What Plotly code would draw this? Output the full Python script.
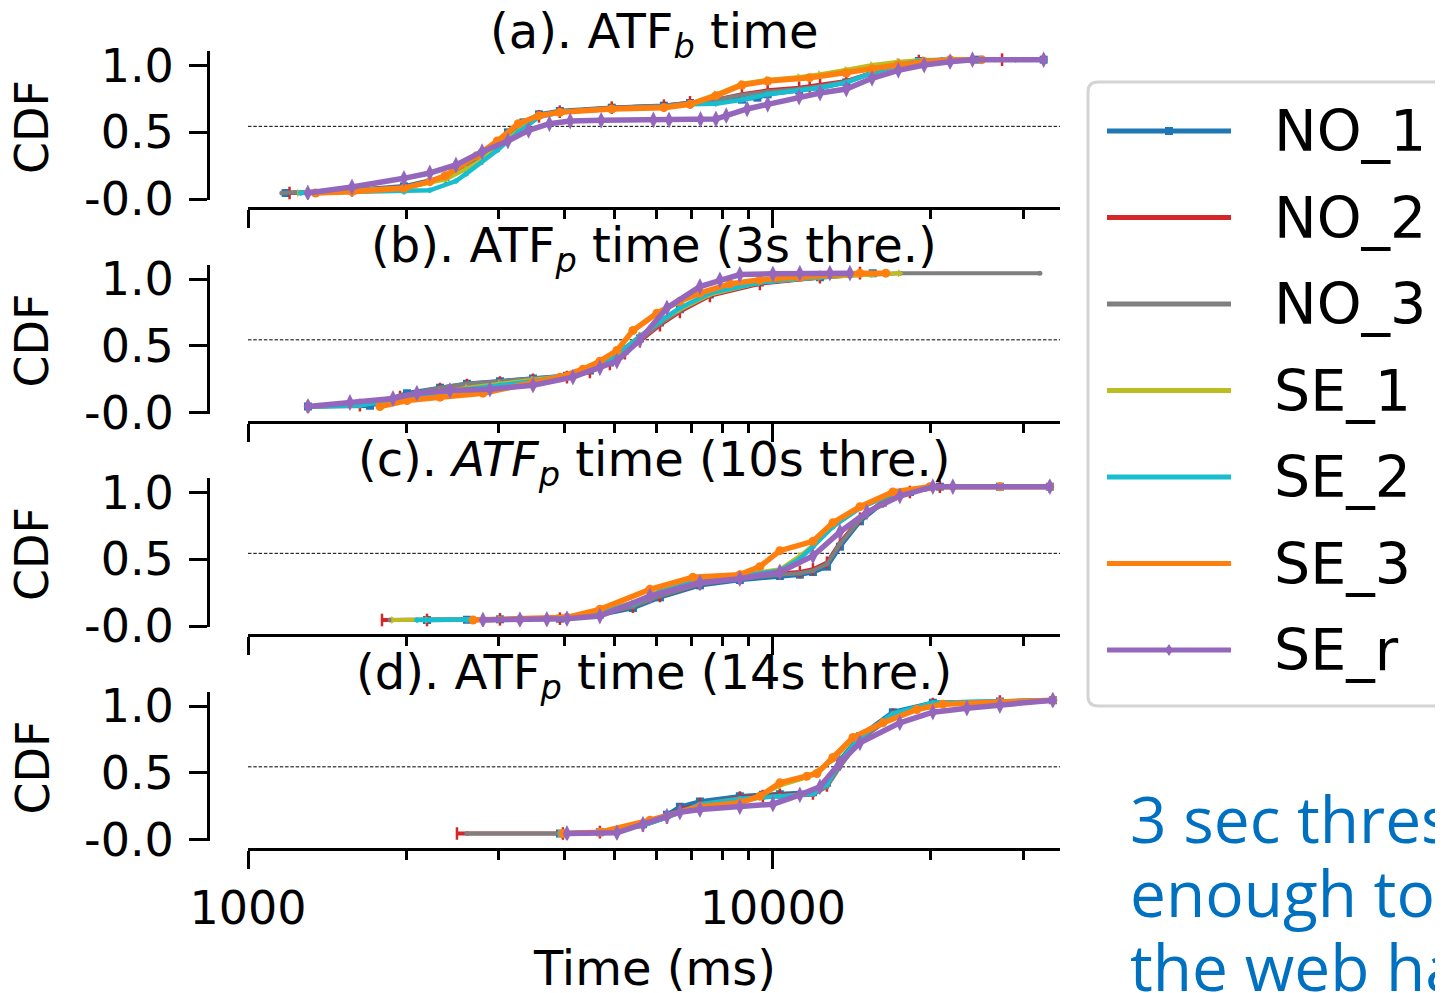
import plotly.graph_objects as go

# ---------------- data (time in ms, CDF values) ----------------
SERIES = ["NO_1", "NO_2", "NO_3", "SE_1", "SE_2", "SE_3", "SE_r"]
TITLES = [
    "(a). ATF<sub><i>b</i></sub> time",
    "(b). ATF<sub><i>p</i></sub> time (3s thre.)",
    "(c). <i>ATF</i><sub><i>p</i></sub> time (10s thre.)",
    "(d). ATF<sub><i>p</i></sub> time (14s thre.)",
]
X_TICKS = [1000, 10000]
X_TICK_TEXT = ["1000", "10000"]
X_MINOR = [2000, 3000, 4000, 5000, 6000, 7000, 8000, 9000, 20000, 30000]
Y_TICKS = [-0.045, 0.455, 0.955]
Y_TICK_TEXT = ["-0.0", "0.5", "1.0"]
MEDIAN_LINE = 0.5
NOTE_LINES = ["3 sec thres", "enough to", "the web ha"]

# (a) ATF_b time
A_NO1_T = [1180,1578,1982,2378,2606,2792,3128,3347,3584,3927,4932,6200,6952,7787,8730,9344,9775,11220,12300,13800,15450,17340,18970,24380,32800]
A_NO1_P = [0.0,0.02,0.05,0.12,0.22,0.295,0.455,0.53,0.59,0.615,0.64,0.655,0.675,0.69,0.70,0.715,0.74,0.77,0.79,0.83,0.90,0.96,0.99,1.0,1.0]
A_NO2_T = [1200,1578,1982,2378,2606,2792,3128,3347,3584,3927,4932,6200,6952,7787,8730,9775,11220,11750,12300,13800,15450,17340,18970,27330]
A_NO2_P = [0.0,0.02,0.045,0.11,0.19,0.26,0.42,0.50,0.575,0.61,0.64,0.655,0.68,0.70,0.74,0.77,0.79,0.80,0.81,0.84,0.90,0.96,0.99,1.0]
A_NO3_T = [1160,1578,1982,2378,2606,2792,3128,3347,3584,3927,4932,6200,6952,7787,8730,9775,11220,12300,13800,15450,17340,18970,21000,26600]
A_NO3_P = [0.0,0.02,0.045,0.11,0.19,0.26,0.42,0.50,0.575,0.61,0.64,0.655,0.68,0.70,0.735,0.76,0.78,0.80,0.835,0.90,0.96,0.99,1.0,1.0]
A_SE1_T = [1250,1578,1982,2378,2606,2792,3128,3347,3584,3927,4932,6200,6952,7787,8730,9775,11220,12300,13800,15450,17340,19420,22000]
A_SE1_P = [0.0,0.02,0.04,0.10,0.18,0.25,0.41,0.50,0.575,0.605,0.63,0.645,0.67,0.74,0.82,0.85,0.87,0.89,0.925,0.96,0.985,1.0,1.0]
A_SE2_T = [1260,1578,1982,2220,2490,2606,2985,3272,3584,3927,4932,6200,6952,7787,8730,9775,11220,12300,13800,15450,17340,18970,21000,29000]
A_SE2_P = [0.0,0.005,0.01,0.02,0.09,0.145,0.32,0.455,0.57,0.605,0.63,0.645,0.665,0.67,0.70,0.74,0.77,0.79,0.83,0.90,0.96,0.99,1.0,1.0]
A_SE3_T = [1345,1578,1982,2220,2378,2729,2985,3272,3584,3927,4932,6200,6952,7787,8730,9775,11750,13800,15450,17340,19420,21760,25000]
A_SE3_P = [0.0,0.01,0.035,0.085,0.13,0.28,0.39,0.52,0.58,0.605,0.63,0.64,0.665,0.73,0.81,0.84,0.865,0.90,0.93,0.96,0.985,1.0,1.0]
A_SER_T = [1300,1578,1982,2220,2490,2792,3128,3424,3752,4110,4708,5920,6340,7280,7787,8150,8930,9775,11220,12300,13800,15450,17340,19420,21760,24000,32800]
A_SER_P = [0.0,0.045,0.11,0.15,0.21,0.31,0.39,0.47,0.52,0.54,0.545,0.548,0.548,0.552,0.555,0.58,0.63,0.665,0.72,0.75,0.78,0.86,0.92,0.96,0.985,1.0,1.0]

# (b) ATF_p time, 3 s threshold
B_NO1_T = [1301,1708,2009,2322,2613,3020,3491,4052,4481,4891,5225,5581,6093,6650,7586,9446,12291,15500]
B_NO1_P = [0.0,0.005,0.10,0.14,0.17,0.19,0.21,0.23,0.27,0.33,0.42,0.51,0.63,0.73,0.84,0.93,0.97,1.0]
B_NO2_T = [1301,1634,1948,2322,2613,3020,3491,4052,4481,4891,5225,5581,6093,6650,7586,9446,12291,14651]
B_NO2_P = [0.0,0.01,0.07,0.13,0.16,0.18,0.20,0.22,0.26,0.32,0.40,0.49,0.61,0.71,0.83,0.92,0.97,1.0]
B_NO3_T = [1301,1634,1948,2322,2613,3020,3491,4052,4481,4891,5225,5581,6093,6650,7586,9446,12291,15500,17454,32259]
B_NO3_P = [0.0,0.01,0.08,0.14,0.17,0.19,0.21,0.23,0.27,0.33,0.41,0.50,0.62,0.72,0.84,0.93,0.97,0.99,1.0,1.0]
B_SE1_T = [1301,1634,1948,2322,2613,3020,3491,4052,4481,4891,5225,5581,6093,6650,7586,9446,12291,15500,17454]
B_SE1_P = [0.0,0.01,0.06,0.11,0.14,0.17,0.20,0.23,0.28,0.35,0.44,0.53,0.64,0.73,0.84,0.93,0.97,0.99,1.0]
B_SE2_T = [1301,1634,1948,2322,2613,3020,3491,4052,4481,4891,5225,5581,6093,6650,7586,9446,12291,14651]
B_SE2_P = [0.0,0.01,0.05,0.10,0.13,0.16,0.19,0.23,0.28,0.35,0.44,0.53,0.64,0.74,0.85,0.93,0.97,1.0]
B_SE3_T = [1784,2009,2322,2803,3491,3929,4346,4682,5045,5412,6013,6650,7261,8283,9446,11256,12841,14651,16412]
B_SE3_P = [0.0,0.045,0.07,0.10,0.18,0.22,0.28,0.34,0.42,0.57,0.70,0.79,0.85,0.92,0.95,0.97,0.99,1.0,1.0]
B_SER_T = [1301,1564,1889,2098,2425,2890,3491,4159,4682,5045,5581,6283,7261,7926,8650,10000,11256,12841,14022]
B_SER_P = [0.0,0.03,0.06,0.10,0.12,0.13,0.16,0.22,0.29,0.34,0.50,0.74,0.90,0.95,0.99,0.995,1.0,1.0,1.0]

# (c) ATF_p time, 10 s threshold
C_NO1_T = [2193,2613,3020,3929,4682,5412,6093,7261,8650,10311,11256,11921,12676,13420,14651,16200,18239,20801,27069,33704]
C_NO1_P = [0.0,0.002,0.005,0.01,0.04,0.09,0.17,0.26,0.30,0.33,0.34,0.36,0.40,0.55,0.74,0.88,0.96,1.0,1.0,1.0]
C_NO2_T = [1800,2193,3020,3929,4682,5412,6093,7261,8650,10311,11256,11921,12676,13420,14651,16200,18239,20801,33704]
C_NO2_P = [0.0,0.0,0.005,0.01,0.045,0.10,0.18,0.27,0.31,0.35,0.36,0.38,0.43,0.58,0.76,0.89,0.96,1.0,1.0]
C_NO3_T = [1865,2193,3020,3929,4682,5412,6093,7261,8650,10311,11256,11921,12676,13420,14651,16200,18239,20801,33704]
C_NO3_P = [0.0,0.0,0.005,0.01,0.045,0.10,0.18,0.27,0.31,0.34,0.35,0.37,0.42,0.57,0.75,0.89,0.96,1.0,1.0]
C_SE1_T = [1889,2193,3020,3929,4682,5412,6093,7261,8650,10311,11256,11921,13013,14651,16926,19907,33704]
C_SE1_P = [0.0,0.0,0.005,0.015,0.07,0.13,0.22,0.31,0.34,0.38,0.48,0.56,0.70,0.84,0.95,1.0,1.0]
C_SE2_T = [2098,2613,3020,3929,4682,5412,6093,7261,8650,10311,11256,11921,13013,14651,16926,19907,33704]
C_SE2_P = [0.0,0.0,0.005,0.012,0.06,0.12,0.21,0.30,0.33,0.37,0.46,0.55,0.70,0.84,0.95,1.0,1.0]
C_SE3_T = [2684,3297,4052,4682,5831,7039,8650,9446,10311,11921,13013,14651,16926,19907,27069,33704]
C_SE3_P = [0.0,0.005,0.02,0.08,0.23,0.32,0.34,0.40,0.52,0.59,0.73,0.85,0.96,1.0,1.0,1.0]
C_SER_T = [2803,3297,3710,4052,4682,5831,7261,8650,10311,11921,13420,15101,17454,20173,22021,33704]
C_SER_P = [0.0,0.003,0.005,0.01,0.03,0.18,0.28,0.31,0.36,0.48,0.66,0.81,0.93,1.0,1.0,1.0]

# (d) ATF_p time, 14 s threshold
D_NO1_T = [3929,4682,5655,6283,6650,7261,8650,9572,10311,11921,12676,13420,14651,16926,20173,27069,34150]
D_NO1_P = [0.0,0.01,0.07,0.14,0.20,0.24,0.28,0.29,0.295,0.31,0.38,0.55,0.73,0.91,0.98,0.99,1.0]
D_NO2_T = [2501,3981,4682,5655,6283,6650,7261,8650,9572,10311,11921,12676,13420,14651,16926,20173,27069,34150]
D_NO2_P = [0.0,0.0,0.01,0.06,0.12,0.18,0.22,0.27,0.28,0.29,0.30,0.36,0.52,0.71,0.89,0.97,0.99,1.0]
D_NO3_T = [2613,3981,4682,5655,6283,6650,7261,8650,9572,10311,11921,12676,13420,14651,16926,20173,27069,34150]
D_NO3_P = [0.0,0.0,0.01,0.06,0.12,0.17,0.21,0.25,0.27,0.28,0.29,0.35,0.50,0.70,0.88,0.97,0.99,1.0]
D_SE1_T = [3929,4682,5831,7261,8650,9446,10311,11612,13013,14208,16200,18805,21077,27069,34150]
D_SE1_P = [0.0,0.01,0.09,0.20,0.24,0.28,0.36,0.42,0.55,0.71,0.84,0.93,0.97,0.985,1.0]
D_SE2_T = [3929,4682,5655,6283,7261,8650,10311,11921,12676,13420,14651,16926,20173,27069,34150]
D_SE2_P = [0.0,0.01,0.06,0.12,0.22,0.26,0.28,0.30,0.37,0.54,0.72,0.90,0.98,0.99,1.0]
D_SE3_T = [3981,4682,5831,7261,8650,9446,10311,11612,12131,13013,14208,16200,18805,21077,27069,34150]
D_SE3_P = [0.0,0.01,0.10,0.20,0.23,0.28,0.38,0.43,0.45,0.57,0.72,0.83,0.93,0.97,0.985,1.0]
D_SER_T = [4052,5045,5655,6283,6650,7261,8650,10000,11256,12291,13420,14651,17454,20173,23424,27069,34150]
D_SER_P = [0.0,0.005,0.07,0.13,0.16,0.18,0.20,0.22,0.29,0.35,0.53,0.68,0.83,0.91,0.94,0.96,1.0]

PANELS = [
    [(A_NO1_T, A_NO1_P), (A_NO2_T, A_NO2_P), (A_NO3_T, A_NO3_P), (A_SE1_T, A_SE1_P),
     (A_SE2_T, A_SE2_P), (A_SE3_T, A_SE3_P), (A_SER_T, A_SER_P)],
    [(B_NO1_T, B_NO1_P), (B_NO2_T, B_NO2_P), (B_NO3_T, B_NO3_P), (B_SE1_T, B_SE1_P),
     (B_SE2_T, B_SE2_P), (B_SE3_T, B_SE3_P), (B_SER_T, B_SER_P)],
    [(C_NO1_T, C_NO1_P), (C_NO2_T, C_NO2_P), (C_NO3_T, C_NO3_P), (C_SE1_T, C_SE1_P),
     (C_SE2_T, C_SE2_P), (C_SE3_T, C_SE3_P), (C_SER_T, C_SER_P)],
    [(D_NO1_T, D_NO1_P), (D_NO2_T, D_NO2_P), (D_NO3_T, D_NO3_P), (D_SE1_T, D_SE1_P),
     (D_SE2_T, D_SE2_P), (D_SE3_T, D_SE3_P), (D_SER_T, D_SER_P)],
]

# ---------------- styles ----------------
COLORS = ["#1f77b4", "#d62728", "#7f7f7f", "#bcbd22", "#17becf", "#ff7f0e", "#9467bd"]
SYMBOLS = ["square", "line-ns", "circle", "triangle-right", "hexagon", "circle", "diamond-tall"]
MSIZES = [8, 9, 5, 7, 6, 9, 12]
LWIDTHS = [4.5, 4, 4, 4, 4.5, 5.5, 5.5]
FONT = "DejaVu Sans"

W, H = 1443, 993
OFF = 8  # page offset of the figure inside the browser window
X_LEFT, X_RIGHT = 248, 1060
PANEL_TOPS = [51, 264.5, 478, 691.5]
PANEL_H = 149
YSPINE_X = 208
XSPINE_GAP = 8


def px(x):
    return (x - OFF) / W


def py(y):
    return 1 - (y - OFF) / H


fig = go.Figure()

for i, panel in enumerate(PANELS):
    k = i + 1
    for j, (t, p) in enumerate(panel):
        mk = dict(symbol=SYMBOLS[j], size=MSIZES[j], color=COLORS[j])
        if SYMBOLS[j] == "line-ns":
            mk["line"] = dict(width=2.5, color=COLORS[j])
        fig.add_trace(go.Scatter(
            x=t, y=p, mode="lines+markers", name=SERIES[j], showlegend=False,
            line=dict(color=COLORS[j], width=LWIDTHS[j]), marker=mk,
            xaxis=f"x{k}", yaxis=f"y{k}",
        ))

    top = PANEL_TOPS[i]
    bot = top + PANEL_H
    xa = dict(
        type="log", range=[3, 4.547], domain=[px(X_LEFT), px(X_RIGHT)],
        anchor="free", position=py(bot + XSPINE_GAP), automargin=False,
        tickvals=X_TICKS, ticktext=X_TICK_TEXT, showticklabels=(i == 3),
        ticks="outside", ticklen=18, tickwidth=3, tickcolor="black",
        minor=dict(tickvals=X_MINOR, ticks="outside", ticklen=9, tickwidth=2.5, tickcolor="black"),
        showline=True, linewidth=3, linecolor="black", showgrid=False, zeroline=False,
        tickfont=dict(family=FONT, size=46, color="black"),
    )
    ya = dict(
        range=[-0.0525, 1.065], domain=[py(bot), py(top)],
        anchor="free", position=px(YSPINE_X), automargin=False,
        tickvals=Y_TICKS, ticktext=Y_TICK_TEXT, ticklabelstandoff=6,
        ticks="outside", ticklen=18, tickwidth=3, tickcolor="black",
        showline=True, linewidth=3, linecolor="black", showgrid=False, zeroline=False,
        tickfont=dict(family=FONT, size=46, color="black"),
    )
    fig.update_layout(**{f"xaxis{k}" if k > 1 else "xaxis": xa,
                         f"yaxis{k}" if k > 1 else "yaxis": ya})

    # median reference line
    fig.add_shape(type="line", xref=f"x{k} domain" if k > 1 else "x domain", x0=0, x1=1,
                  yref=f"y{k}" if k > 1 else "y", y0=MEDIAN_LINE, y1=MEDIAN_LINE,
                  line=dict(color="black", width=1, dash="3.5px,1.8px"), layer="below")

    # panel title
    fig.add_annotation(text=TITLES[i], x=px((X_LEFT + X_RIGHT) / 2), y=py(top - 16),
                       xref="paper", yref="paper", xanchor="center", yanchor="middle",
                       showarrow=False, font=dict(family=FONT, size=48, color="black"))
    # y label
    fig.add_annotation(text="CDF", x=px(32), y=py(top + 76), xref="paper", yref="paper",
                       xanchor="center", yanchor="middle", textangle=-90, showarrow=False,
                       font=dict(family=FONT, size=46, color="black"))

# x label
fig.add_annotation(text="Time (ms)", x=px((X_LEFT + X_RIGHT) / 2), y=py(968),
                   xref="paper", yref="paper", xanchor="center", yanchor="middle",
                   showarrow=False, font=dict(family=FONT, size=48, color="black"))

# ---------------- legend box (drawn) ----------------
LX0, LX1, LY0, LY1, R = 1088, 1480, 82, 706, 10
path = (f"M {px(LX0 + R)},{py(LY0)} L {px(LX1 - R)},{py(LY0)} "
        f"Q {px(LX1)},{py(LY0)} {px(LX1)},{py(LY0 + R)} "
        f"L {px(LX1)},{py(LY1 - R)} Q {px(LX1)},{py(LY1)} {px(LX1 - R)},{py(LY1)} "
        f"L {px(LX0 + R)},{py(LY1)} Q {px(LX0)},{py(LY1)} {px(LX0)},{py(LY1 - R)} "
        f"L {px(LX0)},{py(LY0 + R)} Q {px(LX0)},{py(LY0)} {px(LX0 + R)},{py(LY0)} Z")
fig.add_shape(type="path", path=path, xref="paper", yref="paper",
              line=dict(color="#d4d4d4", width=3), fillcolor="rgba(255,255,255,0.8)")
for j, name in enumerate(SERIES):
    yy = 131 + 86.5 * j
    fig.add_shape(type="line", xref="paper", yref="paper", x0=px(1107), x1=px(1231),
                  y0=py(yy), y1=py(yy), line=dict(color=COLORS[j], width=5))
    fig.add_annotation(text=name, x=px(1272), y=py(yy), xref="paper", yref="paper",
                       xanchor="left", yanchor="middle", showarrow=False,
                       font=dict(family=FONT, size=57, color="black"))
# small legend markers
fig.add_shape(type="rect", xref="paper", yref="paper", x0=px(1165), x1=px(1173),
              y0=py(135), y1=py(127), line=dict(width=0), fillcolor=COLORS[0])
yy = 131 + 86.5 * 6
fig.add_shape(type="path", xref="paper", yref="paper",
              path=f"M {px(1169)},{py(yy - 6)} L {px(1173)},{py(yy)} L {px(1169)},{py(yy + 6)} L {px(1165)},{py(yy)} Z",
              line=dict(width=0), fillcolor=COLORS[6])

# ---------------- side note text ----------------
for n, line in enumerate(NOTE_LINES):
    fig.add_annotation(text=line, x=px(1128), y=py(818 + 74 * n), xref="paper", yref="paper",
                       xanchor="left", yanchor="middle", showarrow=False,
                       font=dict(family="Open Sans", size=64, color="#0070C0"))

fig.update_layout(
    width=W, height=H, margin=dict(l=0, r=0, t=0, b=0, pad=0, autoexpand=False),
    paper_bgcolor="white", plot_bgcolor="white", showlegend=False,
    font=dict(family=FONT, color="black"),
)

fig.write_html("out.html")
